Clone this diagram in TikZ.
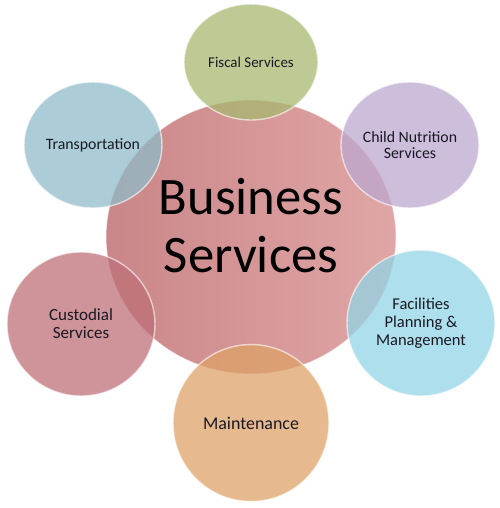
\documentclass[tikz,border=0pt]{standalone}
\usepackage{fontspec}
\setmainfont{Carlito}
\usetikzlibrary{shapes.geometric}

\definecolor{hubLeft}{RGB}{202,134,136}
\definecolor{hubRight}{RGB}{224,166,166}
\definecolor{fiscalGreen}{RGB}{168,184,112}
\definecolor{childLilac}{RGB}{188,168,208}
\definecolor{facilBlue}{RGB}{146,212,230}
\definecolor{maintOrange}{RGB}{222,162,104}
\definecolor{custodRose}{RGB}{190,112,120}
\definecolor{transpBlue}{RGB}{144,188,202}
\definecolor{labelInk}{RGB}{25,25,35}

\begin{document}
\begin{tikzpicture}
[x=0.02cm,y=-0.02cm,
  hubDecorate/.style={shape=ellipse,inner sep=0pt,left color=hubLeft,right color=hubRight,
    draw=white,draw opacity=0.5,line width=0.6pt},
  petalDecorate/.style={shape=ellipse,inner sep=0pt,fill opacity=0.75,text opacity=1,
    draw=white,draw opacity=0.6,line width=0.8pt,text=labelInk,align=center}]
\useasboundingbox (0,0) rectangle (500,508);
%% centre
\node (hub) at (251,237) [hubDecorate,minimum width=5.8cm,minimum height=5.48cm] {};
\node (hubLabel) at (251,226) [align=center,inner sep=0pt,
  font=\fontsize{30}{33}\selectfont] {Business\\Services};
%% outer circles
\foreach \nodename/\x/\y/\w/\h/\col/\fs/\ls/\txt in {
  fiscal/251/62/2.68/2.32/fiscalGreen/8.5/9.5/{Fiscal Services},
  child/410/145/2.76/2.52/childLilac/9/9.2/{Child Nutrition\\Services},
  facilities/421/323/2.96/2.92/facilBlue/9.4/10.3/{Facilities\\Planning \&\\Management},
  maintenance/251/423/3.12/3.14/maintOrange/10.2/11.5/{Maintenance},
  custodial/81/324/2.96/2.88/custodRose/9.7/10.3/{Custodial\\Services},
  transport/93/145/2.76/2.52/transpBlue/9/9.5/{Transportation}}
{
  \node (\nodename) at (\x,\y) [petalDecorate,fill=\col,minimum width=\w cm,
    minimum height=\h cm,font=\fontsize{\fs}{\ls}\selectfont] {\txt};
}
\end{tikzpicture}
\end{document}
